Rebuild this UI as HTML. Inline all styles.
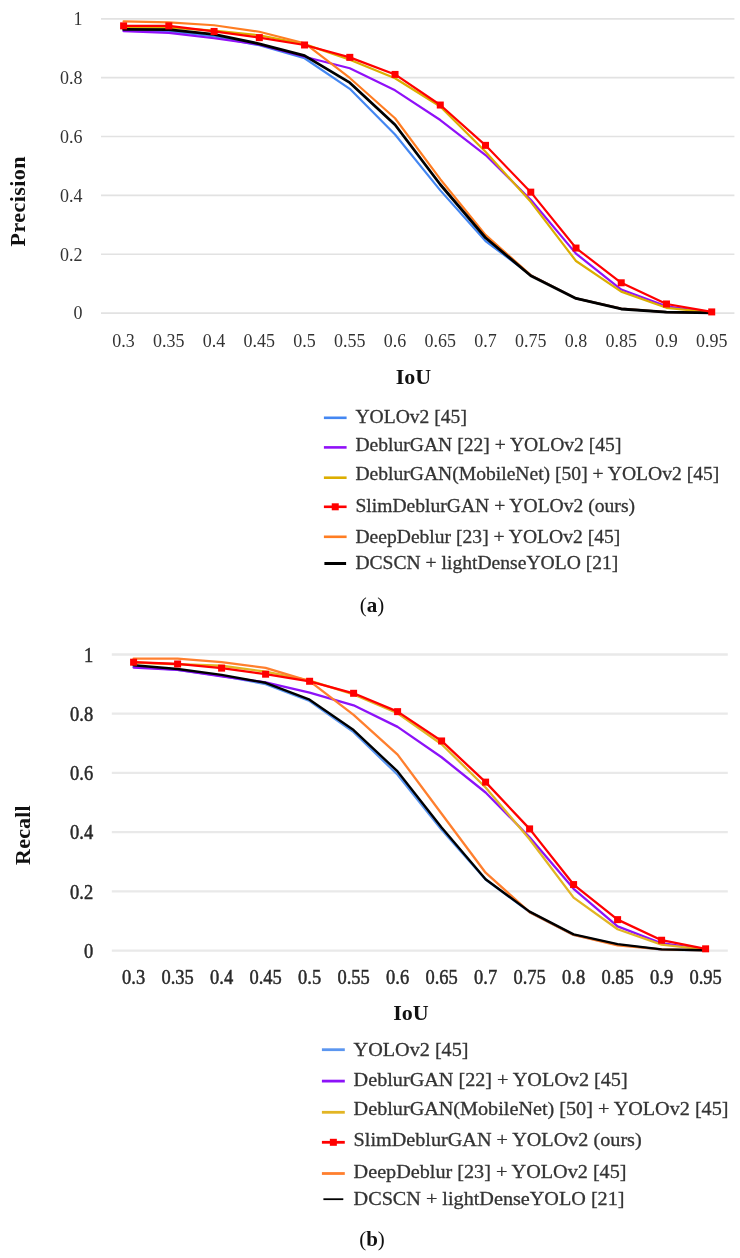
<!DOCTYPE html>
<html><head><meta charset="utf-8">
<style>
html,body{margin:0;padding:0;background:#fff;}
body{width:740px;height:1258px;overflow:hidden;position:relative;}
svg{position:absolute;left:0;top:0;filter:blur(0.5px);}
text{font-family:"Liberation Serif",serif;}
.tick{font-size:17px;}
.axt{font-weight:bold;fill:#111;}
.leg{fill:#333;stroke:#333;stroke-width:0.3px;}
.cap{font-size:21px;fill:#111;}
</style></head>
<body>
<svg width="740" height="1258" viewBox="0 0 740 1258">
<rect width="740" height="1258" fill="#fff"/>
<line x1="101" y1="313.10" x2="734.4" y2="313.10" stroke="#e2e2e2" stroke-width="1.7"/>
<line x1="101" y1="254.24" x2="734.4" y2="254.24" stroke="#e2e2e2" stroke-width="1.7"/>
<line x1="101" y1="195.38" x2="734.4" y2="195.38" stroke="#e2e2e2" stroke-width="1.7"/>
<line x1="101" y1="136.52" x2="734.4" y2="136.52" stroke="#e2e2e2" stroke-width="1.7"/>
<line x1="101" y1="77.66" x2="734.4" y2="77.66" stroke="#e2e2e2" stroke-width="1.7"/>
<line x1="101" y1="18.80" x2="734.4" y2="18.80" stroke="#e2e2e2" stroke-width="1.7"/>
<text transform="translate(82.5,319.40) scale(1,1.075)" text-anchor="end" class="tick" style="font-size:18px;stroke:#333333;stroke-width:0px" fill="#333333">0</text>
<text transform="translate(82.5,260.54) scale(1,1.075)" text-anchor="end" class="tick" style="font-size:18px;stroke:#333333;stroke-width:0px" fill="#333333">0.2</text>
<text transform="translate(82.5,201.68) scale(1,1.075)" text-anchor="end" class="tick" style="font-size:18px;stroke:#333333;stroke-width:0px" fill="#333333">0.4</text>
<text transform="translate(82.5,142.82) scale(1,1.075)" text-anchor="end" class="tick" style="font-size:18px;stroke:#333333;stroke-width:0px" fill="#333333">0.6</text>
<text transform="translate(82.5,83.96) scale(1,1.075)" text-anchor="end" class="tick" style="font-size:18px;stroke:#333333;stroke-width:0px" fill="#333333">0.8</text>
<text transform="translate(82.5,25.10) scale(1,1.075)" text-anchor="end" class="tick" style="font-size:18px;stroke:#333333;stroke-width:0px" fill="#333333">1</text>
<text transform="translate(123.60,347.0) scale(1,1.075)" text-anchor="middle" class="tick" style="font-size:18px;stroke:#333333;stroke-width:0px" fill="#333333">0.3</text>
<text transform="translate(168.84,347.0) scale(1,1.075)" text-anchor="middle" class="tick" style="font-size:18px;stroke:#333333;stroke-width:0px" fill="#333333">0.35</text>
<text transform="translate(214.08,347.0) scale(1,1.075)" text-anchor="middle" class="tick" style="font-size:18px;stroke:#333333;stroke-width:0px" fill="#333333">0.4</text>
<text transform="translate(259.32,347.0) scale(1,1.075)" text-anchor="middle" class="tick" style="font-size:18px;stroke:#333333;stroke-width:0px" fill="#333333">0.45</text>
<text transform="translate(304.56,347.0) scale(1,1.075)" text-anchor="middle" class="tick" style="font-size:18px;stroke:#333333;stroke-width:0px" fill="#333333">0.5</text>
<text transform="translate(349.80,347.0) scale(1,1.075)" text-anchor="middle" class="tick" style="font-size:18px;stroke:#333333;stroke-width:0px" fill="#333333">0.55</text>
<text transform="translate(395.04,347.0) scale(1,1.075)" text-anchor="middle" class="tick" style="font-size:18px;stroke:#333333;stroke-width:0px" fill="#333333">0.6</text>
<text transform="translate(440.28,347.0) scale(1,1.075)" text-anchor="middle" class="tick" style="font-size:18px;stroke:#333333;stroke-width:0px" fill="#333333">0.65</text>
<text transform="translate(485.52,347.0) scale(1,1.075)" text-anchor="middle" class="tick" style="font-size:18px;stroke:#333333;stroke-width:0px" fill="#333333">0.7</text>
<text transform="translate(530.76,347.0) scale(1,1.075)" text-anchor="middle" class="tick" style="font-size:18px;stroke:#333333;stroke-width:0px" fill="#333333">0.75</text>
<text transform="translate(576.00,347.0) scale(1,1.075)" text-anchor="middle" class="tick" style="font-size:18px;stroke:#333333;stroke-width:0px" fill="#333333">0.8</text>
<text transform="translate(621.24,347.0) scale(1,1.075)" text-anchor="middle" class="tick" style="font-size:18px;stroke:#333333;stroke-width:0px" fill="#333333">0.85</text>
<text transform="translate(666.48,347.0) scale(1,1.075)" text-anchor="middle" class="tick" style="font-size:18px;stroke:#333333;stroke-width:0px" fill="#333333">0.9</text>
<text transform="translate(711.72,347.0) scale(1,1.075)" text-anchor="middle" class="tick" style="font-size:18px;stroke:#333333;stroke-width:0px" fill="#333333">0.95</text>
<polyline points="123.60,30.57 168.84,31.16 214.08,36.46 259.32,45.29 304.56,58.24 349.80,88.84 395.04,134.46 440.28,190.38 485.52,241.00 530.76,275.14 576.00,298.39 621.24,308.69 666.48,312.22 711.72,312.81" fill="none" stroke="#4487f2" stroke-width="2.2" stroke-linejoin="round" stroke-linecap="round"/>
<polyline points="123.60,31.16 168.84,32.93 214.08,38.22 259.32,44.70 304.56,56.76 349.80,68.24 395.04,90.31 440.28,120.04 485.52,155.06 530.76,199.79 576.00,253.65 621.24,289.56 666.48,306.33 711.72,312.51" fill="none" stroke="#9010f8" stroke-width="2.2" stroke-linejoin="round" stroke-linecap="round"/>
<polyline points="123.60,27.33 168.84,27.63 214.08,30.57 259.32,35.28 304.56,44.11 349.80,59.71 395.04,78.25 440.28,106.50 485.52,151.82 530.76,201.85 576.00,261.01 621.24,291.62 666.48,307.80 711.72,312.51" fill="none" stroke="#dcae00" stroke-width="2.2" stroke-linejoin="round" stroke-linecap="round"/>
<polyline points="123.60,21.45 168.84,22.33 214.08,25.27 259.32,31.75 304.56,43.23 349.80,77.95 395.04,118.27 440.28,179.19 485.52,234.82 530.76,275.14 576.00,298.39 621.24,308.69 666.48,312.22 711.72,312.81" fill="none" stroke="#ff7d22" stroke-width="2.2" stroke-linejoin="round" stroke-linecap="round"/>
<polyline points="123.60,29.39 168.84,29.69 214.08,34.40 259.32,43.82 304.56,55.59 349.80,82.66 395.04,124.75 440.28,184.49 485.52,237.76 530.76,275.72 576.00,298.39 621.24,308.98 666.48,312.22 711.72,312.81" fill="none" stroke="#000000" stroke-width="2.8" stroke-linejoin="round" stroke-linecap="round"/>
<polyline points="123.60,25.86 168.84,25.86 214.08,31.45 259.32,37.64 304.56,44.99 349.80,57.35 395.04,74.42 440.28,105.03 485.52,145.35 530.76,192.14 576.00,248.06 621.24,282.79 666.48,303.98 711.72,311.92" fill="none" stroke="#ff0000" stroke-width="2.2" stroke-linejoin="round" stroke-linecap="round"/>
<rect x="120.10" y="22.36" width="7" height="7" fill="#ff0000"/>
<rect x="165.34" y="22.36" width="7" height="7" fill="#ff0000"/>
<rect x="210.58" y="27.95" width="7" height="7" fill="#ff0000"/>
<rect x="255.82" y="34.14" width="7" height="7" fill="#ff0000"/>
<rect x="301.06" y="41.49" width="7" height="7" fill="#ff0000"/>
<rect x="346.30" y="53.85" width="7" height="7" fill="#ff0000"/>
<rect x="391.54" y="70.92" width="7" height="7" fill="#ff0000"/>
<rect x="436.78" y="101.53" width="7" height="7" fill="#ff0000"/>
<rect x="482.02" y="141.85" width="7" height="7" fill="#ff0000"/>
<rect x="527.26" y="188.64" width="7" height="7" fill="#ff0000"/>
<rect x="572.50" y="244.56" width="7" height="7" fill="#ff0000"/>
<rect x="617.74" y="279.29" width="7" height="7" fill="#ff0000"/>
<rect x="662.98" y="300.48" width="7" height="7" fill="#ff0000"/>
<rect x="708.22" y="308.42" width="7" height="7" fill="#ff0000"/>
<text x="413.5" y="383.8" text-anchor="middle" class="axt" style="font-size:22px">IoU</text>
<text transform="translate(25,201.2) rotate(-90)" text-anchor="middle" class="axt" style="font-size:22px;letter-spacing:0.45px">Precision</text>
<line x1="323.9" y1="417.8" x2="346.6" y2="417.8" stroke="#4487f2" stroke-width="2.6" stroke-linecap="butt"/>
<text transform="translate(355.4,422.8) scale(1,0.97)" class="leg" style="font-size:19.6px">YOLOv2 [45]</text>
<line x1="323.9" y1="447.4" x2="346.6" y2="447.4" stroke="#9010f8" stroke-width="2.6" stroke-linecap="butt"/>
<text transform="translate(355.4,451.2) scale(1,0.97)" class="leg" style="font-size:19.6px">DeblurGAN [22] + YOLOv2 [45]</text>
<line x1="323.9" y1="477.7" x2="346.6" y2="477.7" stroke="#dcae00" stroke-width="2.6" stroke-linecap="butt"/>
<text transform="translate(355.4,480.3) scale(1,0.97)" class="leg" style="font-size:19.6px">DeblurGAN(MobileNet) [50] + YOLOv2 [45]</text>
<line x1="323.9" y1="506.8" x2="346.6" y2="506.8" stroke="#ff0000" stroke-width="2.6" stroke-linecap="butt"/>
<rect x="331.75" y="503.30" width="7" height="7" fill="#ff0000"/>
<text transform="translate(355.4,512.1) scale(1,0.97)" class="leg" style="font-size:19.6px">SlimDeblurGAN + YOLOv2 (ours)</text>
<line x1="323.9" y1="536.8" x2="346.6" y2="536.8" stroke="#ff7d22" stroke-width="2.6" stroke-linecap="butt"/>
<text transform="translate(355.4,542.9) scale(1,0.97)" class="leg" style="font-size:19.6px">DeepDeblur [23] + YOLOv2 [45]</text>
<line x1="324.4" y1="563.5" x2="346.1" y2="563.5" stroke="#000000" stroke-width="3.0" stroke-linecap="butt"/>
<text transform="translate(355.4,569.3) scale(1,0.97)" class="leg" style="font-size:19.6px">DCSCN + lightDenseYOLO [21]</text>
<text x="372" y="612" text-anchor="middle" class="cap">(<tspan font-weight="bold">a</tspan>)</text>
<line x1="111.8" y1="950.60" x2="727.8" y2="950.60" stroke="#e9e9e9" stroke-width="2.3"/>
<line x1="111.8" y1="891.38" x2="727.8" y2="891.38" stroke="#e9e9e9" stroke-width="2.3"/>
<line x1="111.8" y1="832.16" x2="727.8" y2="832.16" stroke="#e9e9e9" stroke-width="2.3"/>
<line x1="111.8" y1="772.94" x2="727.8" y2="772.94" stroke="#e9e9e9" stroke-width="2.3"/>
<line x1="111.8" y1="713.72" x2="727.8" y2="713.72" stroke="#e9e9e9" stroke-width="2.3"/>
<line x1="111.8" y1="654.50" x2="727.8" y2="654.50" stroke="#e9e9e9" stroke-width="2.3"/>
<text transform="translate(93.2,957.90) scale(1,1.15)" text-anchor="end" class="tick" style="font-size:18.5px;stroke:#2a2a2a;stroke-width:0.45px" fill="#2a2a2a">0</text>
<text transform="translate(93.2,898.68) scale(1,1.15)" text-anchor="end" class="tick" style="font-size:18.5px;stroke:#2a2a2a;stroke-width:0.45px" fill="#2a2a2a">0.2</text>
<text transform="translate(93.2,839.46) scale(1,1.15)" text-anchor="end" class="tick" style="font-size:18.5px;stroke:#2a2a2a;stroke-width:0.45px" fill="#2a2a2a">0.4</text>
<text transform="translate(93.2,780.24) scale(1,1.15)" text-anchor="end" class="tick" style="font-size:18.5px;stroke:#2a2a2a;stroke-width:0.45px" fill="#2a2a2a">0.6</text>
<text transform="translate(93.2,721.02) scale(1,1.15)" text-anchor="end" class="tick" style="font-size:18.5px;stroke:#2a2a2a;stroke-width:0.45px" fill="#2a2a2a">0.8</text>
<text transform="translate(93.2,661.80) scale(1,1.15)" text-anchor="end" class="tick" style="font-size:18.5px;stroke:#2a2a2a;stroke-width:0.45px" fill="#2a2a2a">1</text>
<text transform="translate(133.60,983.8) scale(1,1.15)" text-anchor="middle" class="tick" style="font-size:18.5px;stroke:#2a2a2a;stroke-width:0.45px" fill="#2a2a2a">0.3</text>
<text transform="translate(177.60,983.8) scale(1,1.15)" text-anchor="middle" class="tick" style="font-size:18.5px;stroke:#2a2a2a;stroke-width:0.45px" fill="#2a2a2a">0.35</text>
<text transform="translate(221.60,983.8) scale(1,1.15)" text-anchor="middle" class="tick" style="font-size:18.5px;stroke:#2a2a2a;stroke-width:0.45px" fill="#2a2a2a">0.4</text>
<text transform="translate(265.60,983.8) scale(1,1.15)" text-anchor="middle" class="tick" style="font-size:18.5px;stroke:#2a2a2a;stroke-width:0.45px" fill="#2a2a2a">0.45</text>
<text transform="translate(309.60,983.8) scale(1,1.15)" text-anchor="middle" class="tick" style="font-size:18.5px;stroke:#2a2a2a;stroke-width:0.45px" fill="#2a2a2a">0.5</text>
<text transform="translate(353.60,983.8) scale(1,1.15)" text-anchor="middle" class="tick" style="font-size:18.5px;stroke:#2a2a2a;stroke-width:0.45px" fill="#2a2a2a">0.55</text>
<text transform="translate(397.60,983.8) scale(1,1.15)" text-anchor="middle" class="tick" style="font-size:18.5px;stroke:#2a2a2a;stroke-width:0.45px" fill="#2a2a2a">0.6</text>
<text transform="translate(441.60,983.8) scale(1,1.15)" text-anchor="middle" class="tick" style="font-size:18.5px;stroke:#2a2a2a;stroke-width:0.45px" fill="#2a2a2a">0.65</text>
<text transform="translate(485.60,983.8) scale(1,1.15)" text-anchor="middle" class="tick" style="font-size:18.5px;stroke:#2a2a2a;stroke-width:0.45px" fill="#2a2a2a">0.7</text>
<text transform="translate(529.60,983.8) scale(1,1.15)" text-anchor="middle" class="tick" style="font-size:18.5px;stroke:#2a2a2a;stroke-width:0.45px" fill="#2a2a2a">0.75</text>
<text transform="translate(573.60,983.8) scale(1,1.15)" text-anchor="middle" class="tick" style="font-size:18.5px;stroke:#2a2a2a;stroke-width:0.45px" fill="#2a2a2a">0.8</text>
<text transform="translate(617.60,983.8) scale(1,1.15)" text-anchor="middle" class="tick" style="font-size:18.5px;stroke:#2a2a2a;stroke-width:0.45px" fill="#2a2a2a">0.85</text>
<text transform="translate(661.60,983.8) scale(1,1.15)" text-anchor="middle" class="tick" style="font-size:18.5px;stroke:#2a2a2a;stroke-width:0.45px" fill="#2a2a2a">0.9</text>
<text transform="translate(705.60,983.8) scale(1,1.15)" text-anchor="middle" class="tick" style="font-size:18.5px;stroke:#2a2a2a;stroke-width:0.45px" fill="#2a2a2a">0.95</text>
<polyline points="133.60,666.34 177.60,669.90 221.60,675.82 265.60,684.11 309.60,700.99 353.60,732.08 397.60,774.72 441.60,829.79 485.60,879.54 529.60,912.11 573.60,934.91 617.60,944.68 661.60,949.71 705.60,950.30" fill="none" stroke="#5b96f0" stroke-width="2.3" stroke-linejoin="round" stroke-linecap="round"/>
<polyline points="133.60,667.53 177.60,669.90 221.60,676.41 265.60,682.33 309.60,692.70 353.60,705.28 397.60,726.87 441.60,757.25 485.60,792.48 529.60,837.19 573.60,888.83 617.60,926.32 661.60,943.20 705.60,949.71" fill="none" stroke="#8c12f8" stroke-width="2.3" stroke-linejoin="round" stroke-linecap="round"/>
<polyline points="133.60,662.49 177.60,664.27 221.60,665.75 265.60,671.67 309.60,680.56 353.60,694.47 397.60,713.28 441.60,744.22 485.60,787.45 529.60,839.27 573.60,897.60 617.60,929.28 661.60,944.68 705.60,949.71" fill="none" stroke="#e2b524" stroke-width="2.3" stroke-linejoin="round" stroke-linecap="round"/>
<polyline points="133.60,658.65 177.60,658.65 221.60,662.20 265.60,667.82 309.60,681.15 353.60,714.90 397.60,754.58 441.60,813.80 485.60,872.73 529.60,912.11 573.60,934.91 617.60,945.27 661.60,949.42 705.60,950.30" fill="none" stroke="#ff7f2e" stroke-width="2.3" stroke-linejoin="round" stroke-linecap="round"/>
<polyline points="133.60,665.28 177.60,669.01 221.60,674.93 265.60,682.78 309.60,699.66 353.60,730.01 397.60,771.46 441.60,827.42 485.60,879.24 529.60,911.63 573.60,934.31 617.60,944.09 661.60,949.42 705.60,950.30" fill="none" stroke="#000000" stroke-width="2.4" stroke-linejoin="round" stroke-linecap="round"/>
<polyline points="133.60,662.20 177.60,663.98 221.60,668.12 265.60,674.19 309.60,681.27 353.60,693.29 397.60,711.65 441.60,740.96 485.60,782.12 529.60,828.90 573.60,884.57 617.60,919.63 661.60,940.24 705.60,948.82" fill="none" stroke="#ff0000" stroke-width="2.3" stroke-linejoin="round" stroke-linecap="round"/>
<rect x="130.10" y="658.70" width="7" height="7" fill="#ff0000"/>
<rect x="174.10" y="660.48" width="7" height="7" fill="#ff0000"/>
<rect x="218.10" y="664.62" width="7" height="7" fill="#ff0000"/>
<rect x="262.10" y="670.69" width="7" height="7" fill="#ff0000"/>
<rect x="306.10" y="677.77" width="7" height="7" fill="#ff0000"/>
<rect x="350.10" y="689.79" width="7" height="7" fill="#ff0000"/>
<rect x="394.10" y="708.15" width="7" height="7" fill="#ff0000"/>
<rect x="438.10" y="737.46" width="7" height="7" fill="#ff0000"/>
<rect x="482.10" y="778.62" width="7" height="7" fill="#ff0000"/>
<rect x="526.10" y="825.40" width="7" height="7" fill="#ff0000"/>
<rect x="570.10" y="881.07" width="7" height="7" fill="#ff0000"/>
<rect x="614.10" y="916.13" width="7" height="7" fill="#ff0000"/>
<rect x="658.10" y="936.74" width="7" height="7" fill="#ff0000"/>
<rect x="702.10" y="945.32" width="7" height="7" fill="#ff0000"/>
<text x="411" y="1019.5" text-anchor="middle" class="axt" style="font-size:22px">IoU</text>
<text transform="translate(29.6,835) rotate(-90)" text-anchor="middle" class="axt" style="font-size:22px;letter-spacing:0.2px">Recall</text>
<line x1="321.9" y1="1049.7" x2="344.8" y2="1049.7" stroke="#5b96f0" stroke-width="2.8" stroke-linecap="butt"/>
<text transform="translate(353.6,1055.5) scale(1,0.92)" class="leg" style="font-size:20.2px">YOLOv2 [45]</text>
<line x1="321.9" y1="1081.1" x2="344.8" y2="1081.1" stroke="#8c12f8" stroke-width="2.8" stroke-linecap="butt"/>
<text transform="translate(353.6,1085.5) scale(1,0.92)" class="leg" style="font-size:20.2px">DeblurGAN [22] + YOLOv2 [45]</text>
<line x1="321.9" y1="1112.3" x2="344.8" y2="1112.3" stroke="#e2b524" stroke-width="2.8" stroke-linecap="butt"/>
<text transform="translate(353.6,1114.6) scale(1,0.92)" class="leg" style="font-size:20.2px">DeblurGAN(MobileNet) [50] + YOLOv2 [45]</text>
<line x1="321.9" y1="1142.3" x2="344.8" y2="1142.3" stroke="#ff0000" stroke-width="2.8" stroke-linecap="butt"/>
<rect x="329.85" y="1138.80" width="7" height="7" fill="#ff0000"/>
<text transform="translate(353.6,1145.8) scale(1,0.92)" class="leg" style="font-size:20.2px">SlimDeblurGAN + YOLOv2 (ours)</text>
<line x1="321.9" y1="1173.5" x2="344.8" y2="1173.5" stroke="#ff7f2e" stroke-width="2.8" stroke-linecap="butt"/>
<text transform="translate(353.6,1177.8) scale(1,0.92)" class="leg" style="font-size:20.2px">DeepDeblur [23] + YOLOv2 [45]</text>
<line x1="323.4" y1="1199.2" x2="343.3" y2="1199.2" stroke="#000000" stroke-width="1.8" stroke-linecap="butt"/>
<text transform="translate(353.6,1205.3) scale(1,0.92)" class="leg" style="font-size:20.2px">DCSCN + lightDenseYOLO [21]</text>
<text x="372" y="1246" text-anchor="middle" class="cap">(<tspan font-weight="bold">b</tspan>)</text>
</svg>
</body></html>
